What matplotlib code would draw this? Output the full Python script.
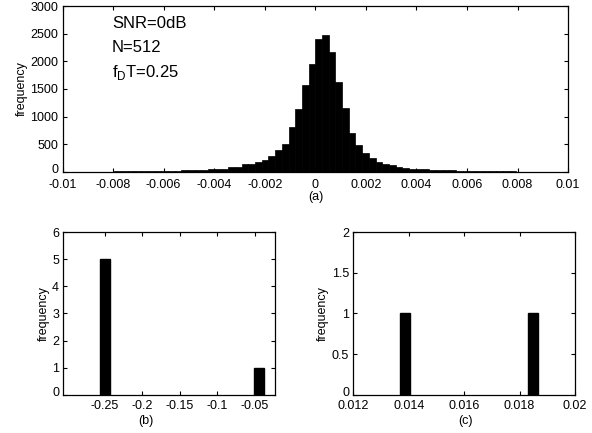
import numpy as np
import matplotlib
matplotlib.use("Agg")
import matplotlib.pyplot as plt
from matplotlib.transforms import ScaledTranslation

plt.rcParams['font.family'] = ['Liberation Sans', 'DejaVu Sans']

# (a) histogram of the estimation error, bin 0 starts at zero
bin_w = 0.000265
counts_a = [5, 6, 8, 10, 10, 12, 15, 15, 20, 20, 25, 25, 30, 30, 35, 40, 45,
            60, 60, 90, 90, 140, 140, 180, 210, 285, 390, 500, 805, 1145, 1580, 1958,
            2412, 2473, 2176, 1624, 1164, 700, 485, 335, 245, 185, 150, 120, 90, 70, 60, 50,
            45, 40, 35, 30, 28, 25, 22, 20, 18, 15, 12, 10, 10, 8, 6, 5, 4, 3]
n_left = 32  # bins left of zero

# (b) and (c)
centers_b = [-0.25, -0.044]
counts_b = [5, 1]
centers_c = [0.01387, 0.01848]
counts_c = [1, 1]

xt_a = [-0.01, -0.008, -0.006, -0.004, -0.002, 0, 0.002, 0.004, 0.006, 0.008, 0.01]
xtl_a = ['-0.01', '-0.008', '-0.006', '-0.004', '-0.002', '0', '0.002', '0.004', '0.006', '0.008', '0.01']
yt_a = [0, 500, 1000, 1500, 2000, 2500, 3000]
xt_b = [-0.25, -0.2, -0.15, -0.1, -0.05]
xtl_b = ['-0.25', '-0.2', '-0.15', '-0.1', '-0.05']
yt_b = [0, 1, 2, 3, 4, 5, 6]
xt_c = [0.012, 0.014, 0.016, 0.018, 0.02]
xtl_c = ['0.012', '0.014', '0.016', '0.018', '0.02']
yt_c = [0, 0.5, 1, 1.5, 2]
ytl_c = ['0', '0.5', '1', '1.5', '2']

fig = plt.figure(figsize=(5.92, 4.33), dpi=100)


def style(ax, xpad=5):
    ax.tick_params(direction='in', top=True, right=True, labelsize=9, length=3)
    ax.tick_params(axis='x', pad=xpad)
    ax.tick_params(axis='y', pad=3)
    for s in ax.spines.values():
        s.set_linewidth(0.9)
    ax.set_ylabel('frequency', fontsize=9, labelpad=2)


# top panel
ax1 = fig.add_axes([0.1056, 0.603, 0.854, 0.383])
left_edges = (np.arange(len(counts_a)) - n_left) * bin_w
ax1.bar(left_edges, counts_a, width=bin_w, align='edge', color='black', edgecolor='black', linewidth=0.5)
ax1.set_xlim(-0.01, 0.01)
ax1.set_ylim(0, 3000)
ax1.set_xticks(xt_a)
ax1.set_xticklabels(xtl_a)
ax1.set_yticks(yt_a)
style(ax1)
ax1.text(0.098, 0.87, 'SNR=0dB', transform=ax1.transAxes, fontsize=12)
ax1.text(0.098, 0.72, 'N=512', transform=ax1.transAxes, fontsize=12)
ax1.text(0.098, 0.57, r'f$_\mathregular{D}$T=0.25', transform=ax1.transAxes, fontsize=12)
fig.text(316 / 592, 1 - 197 / 433, '(a)', ha='center', va='center', fontsize=9)

# bottom left
ax2 = fig.add_axes([0.107, 0.088, 0.3576, 0.376])
ax2.bar(centers_b, counts_b, width=0.013, color='black', edgecolor='black')
ax2.set_xlim(-0.3056, -0.023)
ax2.set_ylim(0, 6)
ax2.set_xticks(xt_b)
ax2.set_xticklabels(xtl_b)
ax2.set_yticks(yt_b)
style(ax2, xpad=4)
fig.text(146 / 592, 1 - 421 / 433, '(b)', ha='center', va='center', fontsize=9)

# bottom right
ax3 = fig.add_axes([0.5968, 0.088, 0.3745, 0.376])
ax3.bar(centers_c, counts_c, width=0.00034, color='black', edgecolor='black')
ax3.set_xlim(0.012, 0.02)
ax3.set_ylim(0, 2)
ax3.set_xticks(xt_c)
ax3.set_xticklabels(xtl_c)
ax3.set_yticks(yt_c)
ax3.set_yticklabels(ytl_c)
style(ax3, xpad=4)
fig.text(465 / 592, 1 - 421 / 433, '(c)', ha='center', va='center', fontsize=9)

# lift the bottom "0" labels a little so they clear the x labels
for ax in (ax1, ax2, ax3):
    lab = ax.get_yticklabels()[0]
    lab.set_transform(lab.get_transform() + ScaledTranslation(0, 2.5 / 72, fig.dpi_scale_trans))

fig.savefig('out.png', dpi=100)
